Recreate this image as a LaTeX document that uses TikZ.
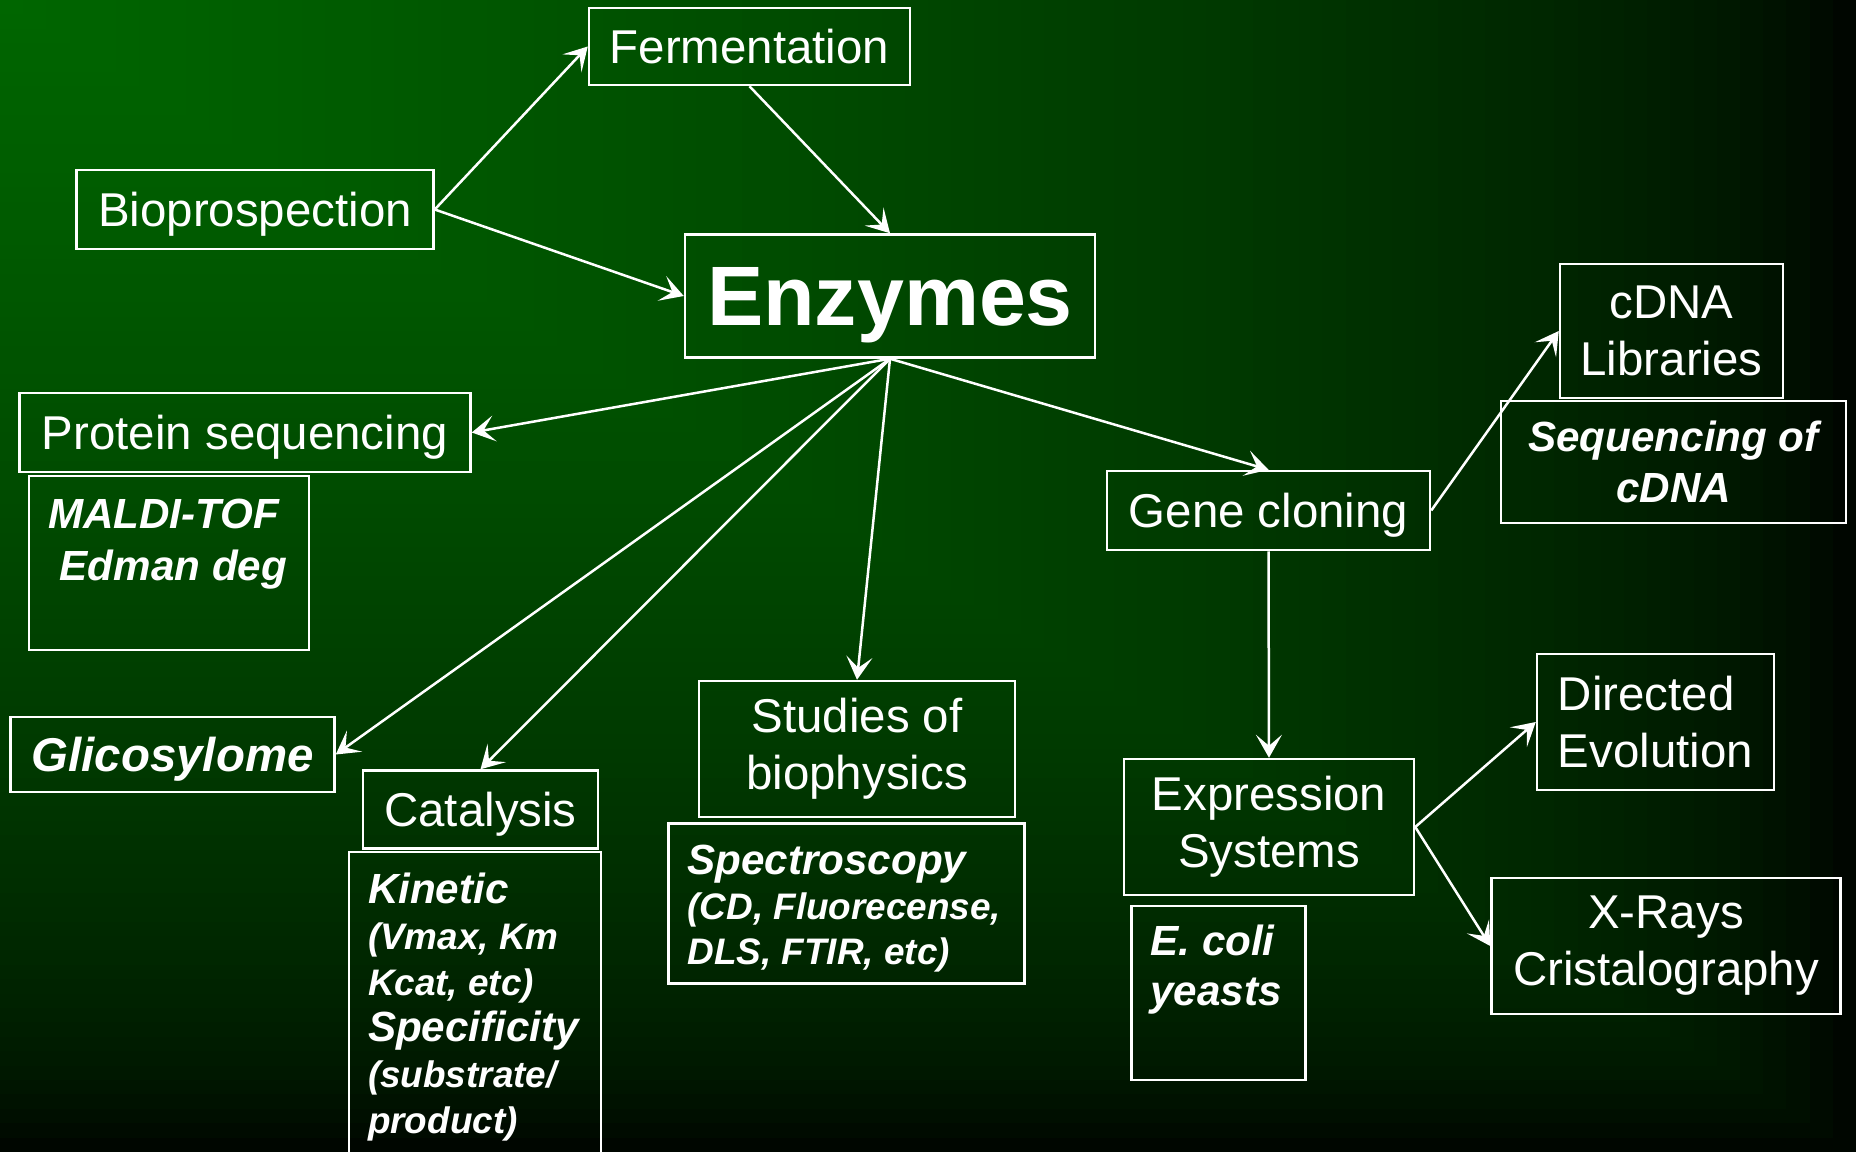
\documentclass[tikz,border=0pt]{standalone}
\usepackage{fontspec}
\setmainfont{Liberation Sans}
\usetikzlibrary{arrows.meta}
\definecolor{bggreen}{RGB}{0,102,0}
\newcommand{\notetext}[4]{\parbox[c][#2][t]{#1}{\raggedright\rule{0pt}{#3}#4}}

\begin{document}
\begin{tikzpicture}[
		box/.style={rectangle, draw=white, line width=0.25mm, text=white, inner sep=0pt, align=center, font={\fontsize{13.5pt}{5.7mm}\selectfont}},
		oneline/.style={text depth=0pt},
		note/.style={rectangle, draw=white, line width=0.25mm, text=white, inner xsep=1.9mm, inner ysep=0pt, font={\bfseries\itshape\fontsize{12pt}{5.2mm}\selectfont}},
		arrow/.style={white, line width=0.25mm, -{Stealth[length=2.3mm,width=2.6mm,inset=1.1mm]}}
	]
		\useasboundingbox (0,0) rectangle (18.56,-11.52);
		\foreach \i in {80,...,1} {
			\pgfmathsetmacro{\shadepct}{100*(1-(\i-0.5)/80)^0.55}
			\fill[bggreen!\shadepct!black] (0,0) rectangle ({18.56*\i/80},{-11.52*\i/80});
		}

		\node[box, oneline, minimum width=32.1mm, minimum height=7.7mm] (ferm) at (7.495, -0.465) {Fermentation};
		\node[box, oneline, minimum width=35.7mm, minimum height=7.9mm] (bio) at (2.55, -2.095) {Bioprospection};
		\node[box, oneline, minimum width=41mm, minimum height=12.3mm, font={\fontsize{24pt}{28pt}\selectfont\bfseries}] (enz) at (8.90, -2.96) {Enzymes};
		\node[box, oneline, minimum width=45.1mm, minimum height=7.9mm] (prot) at (2.45, -4.325) {Protein sequencing};
		\node[note] (maldi) at (1.69, -5.63) {\notetext{24.2mm}{17.4mm}{5.2mm}{MALDI-TOF\\\hspace*{0.28em}Edman deg}};
		\node[box, oneline, minimum width=32.4mm, minimum height=7.5mm, font={\fontsize{13.5pt}{16pt}\selectfont\bfseries\itshape}] (glyco) at (1.725, -7.545) {Glicosylome};
		\node[box, oneline, minimum width=23.5mm, minimum height=7.8mm] (cata) at (4.805, -8.095) {Catalysis};
		\node[note, font={\bfseries\itshape\fontsize{12pt}{4.6mm}\selectfont}] (kin) at (4.75, -10.085) {\notetext{21.4mm}{31.3mm}{5.1mm}{Kinetic\\{\fontsize{10.5pt}{4.6mm}\selectfont (Vmax, Km\\Kcat, etc)}\\Specificity\\{\fontsize{10.5pt}{4.6mm}\selectfont (substrate/\\product)}}};
		\node[box, minimum width=31.6mm, minimum height=13.6mm] (stud) at (8.57, -7.49) {Studies of\\biophysics};
		\node[note, font={\bfseries\itshape\fontsize{12pt}{4.5mm}\selectfont}] (spec) at (8.465, -9.035) {\notetext{31.8mm}{16.0mm}{5.1mm}{Spectroscopy\\{\fontsize{10.5pt}{4.5mm}\selectfont (CD, Fluorecense,\\DLS, FTIR, etc)}}};
		\node[box, oneline, minimum width=32.3mm, minimum height=7.9mm] (gene) at (12.685, -5.105) {Gene cloning};
		\node[box, minimum width=22.3mm, minimum height=13.4mm] (cdna) at (16.715, -3.31) {cDNA\\Libraries};
		\node[box, minimum width=34.5mm, minimum height=12.2mm, font={\fontsize{12pt}{5.15mm}\selectfont\bfseries\itshape}] (seq) at (16.735, -4.62) {Sequencing of\\cDNA};
		\node[box, minimum width=29mm, minimum height=13.6mm] (expr) at (12.69, -8.27) {Expression\\Systems};
		\node[note, font={\bfseries\itshape\fontsize{12pt}{5.0mm}\selectfont}] (ecoli) at (12.185, -9.93) {\notetext{13.6mm}{17.4mm}{4.9mm}{E. coli\\yeasts}};
		\node[box, align=left, minimum width=23.7mm, minimum height=13.6mm] (dir) at (16.555, -7.22) {Directed\\Evolution};
		\node[box, minimum width=34.9mm, minimum height=13.6mm] (xray) at (16.66, -9.46) {X-Rays\\Cristalography};

		\draw[arrow] (bio.east) -- (ferm.west);
		\draw[arrow] (bio.east) -- (enz.west);
		\draw[arrow] (ferm.south) -- (enz.north);
		\draw[arrow] (enz.south) -- (prot.east);
		\draw[arrow] (enz.south) -- (glyco.east);
		\draw[arrow] (enz.south) -- (cata.north);
		\draw[arrow] (enz.south) -- (stud.north);
		\draw[arrow] (enz.south) -- (gene.north);
		\draw[arrow] (gene.east) -- (cdna.west);
		\draw[arrow] (gene.south) -- (expr.north);
		\draw[arrow] (expr.east) -- (dir.west);
		\draw[arrow] (expr.east) -- (xray.west);
	\end{tikzpicture}
\end{document}
